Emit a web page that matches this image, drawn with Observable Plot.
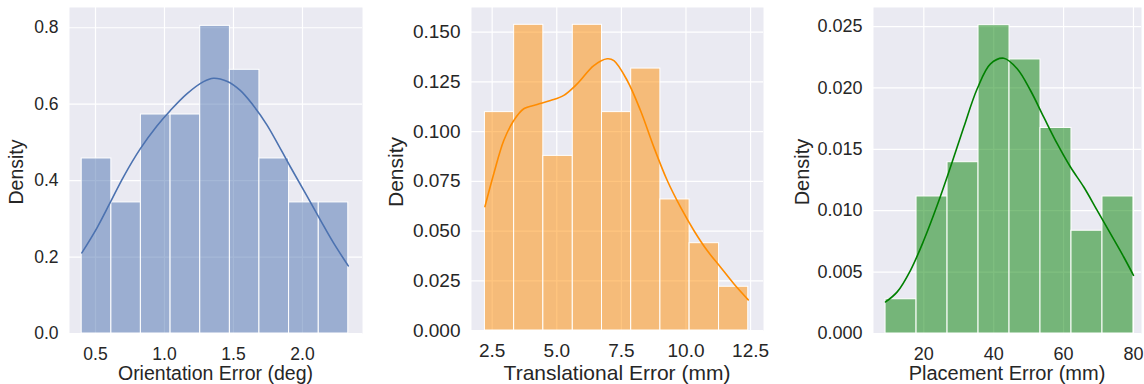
<!DOCTYPE html>
<html><head><meta charset="utf-8">
<script src="https://cdn.jsdelivr.net/npm/d3@7"></script>
<script src="https://cdn.jsdelivr.net/npm/@observablehq/plot@0.6"></script>
<style>
body{margin:0;background:#fff;}
#wrap{position:relative;width:1144px;height:384px;overflow:hidden;font-family:"Liberation Sans",Arial,sans-serif;color:#262626;}
.p{position:absolute;top:0;}
.xl{position:absolute;white-space:nowrap;transform:translate(-50%,-50%);line-height:1;}
.yl{position:absolute;white-space:nowrap;transform:translate(-50%,-50%) rotate(-90deg);line-height:1;}
</style></head><body><div id="wrap"></div>
<script>
// ---------- Orientation error (deg) ----------
const orientEdges = [0.400, 0.615, 0.829, 1.044, 1.259, 1.474, 1.688, 1.903, 2.118, 2.332];
const orientDensity = [0.458, 0.343, 0.573, 0.573, 0.805, 0.690, 0.458, 0.343, 0.343];
const orientKdeX = [0.401, 0.510, 0.607, 0.703, 0.824, 0.945, 1.041, 1.162, 1.283, 1.355, 1.452, 1.549, 1.645, 1.742, 1.911, 2.032, 2.128, 2.225, 2.332];
const orientKdeY = [0.211, 0.276, 0.343, 0.410, 0.483, 0.543, 0.583, 0.627, 0.659, 0.668, 0.660, 0.636, 0.596, 0.546, 0.437, 0.360, 0.298, 0.237, 0.177];
const orientXTicks = [0.5, 1.0, 1.5, 2.0];
const orientYTicks = [0.0, 0.2, 0.4, 0.6, 0.8];

// ---------- Translational error (mm) ----------
const transEdges = [2.22, 3.35, 4.48, 5.62, 6.75, 7.88, 9.01, 10.14, 11.28, 12.41];
const transDensity = [0.1098, 0.1537, 0.0878, 0.1537, 0.1098, 0.1317, 0.0659, 0.0439, 0.0220];
const transKdeX = [2.22, 2.562, 2.949, 3.336, 3.723, 4.24, 4.757, 5.272, 5.79, 6.433, 6.952, 7.21, 7.726, 8.24, 8.756, 9.275, 9.79, 10.305, 10.82, 11.34, 11.85, 12.41];
const transKdeY = [0.0623, 0.0788, 0.0955, 0.1056, 0.1115, 0.1136, 0.1156, 0.1182, 0.124, 0.1332, 0.1366, 0.1357, 0.1257, 0.1106, 0.0922, 0.0754, 0.062, 0.0503, 0.0402, 0.0318, 0.0235, 0.0154];
const transXTicks = [2.5, 5.0, 7.5, 10.0, 12.5];
const transYTicks = [0.000, 0.025, 0.050, 0.075, 0.100, 0.125, 0.150];

// ---------- Placement error (mm) ----------
const placeEdges = [9.05, 17.92, 26.79, 35.66, 44.53, 53.39, 62.26, 71.13, 80.0];
const placeDensity = [0.00279, 0.01116, 0.01395, 0.02511, 0.02232, 0.01674, 0.00837, 0.01116];
const placeKdeX = [9.05, 12.39, 16.19, 20.0, 23.83, 27.64, 31.45, 35.28, 39.08, 42.89, 46.72, 50.53, 54.33, 58.17, 61.97, 65.78, 69.61, 73.42, 77.22, 80.0];
const placeKdeY = [0.00257, 0.00339, 0.00515, 0.00759, 0.01044, 0.01356, 0.01681, 0.01993, 0.02196, 0.02242, 0.02156, 0.01979, 0.01762, 0.01546, 0.01356, 0.01193, 0.01003, 0.00813, 0.00623, 0.00474];
const placeXTicks = [20, 40, 60, 80];
const placeYTicks = [0.000, 0.005, 0.010, 0.015, 0.020, 0.025];

const FONT = '"Liberation Sans", Arial, sans-serif';

function panel(o) {
  const bars = o.dens.map((d, i) => ({x1: o.edges[i], x2: o.edges[i + 1], y1: 0, y2: d}));
  const kde = o.kx.map((x, i) => ({x, y: o.ky[i]}));
  return Plot.plot({
    width: o.width, height: 384,
    marginLeft: o.ml, marginRight: o.mr, marginTop: 7, marginBottom: o.mb,
    style: {background: "transparent", fontFamily: FONT, fontSize: o.tfs + "px", color: "#262626"},
    x: {domain: o.xDomain, label: null},
    y: {domain: o.yDomain, label: null},
    marks: [
      Plot.frame({fill: "#EAEAF2", stroke: null}),
      Plot.gridX(o.xTicks, {stroke: "#ffffff", strokeOpacity: 1, strokeWidth: 1.2}),
      Plot.gridY(o.yTicks, {stroke: "#ffffff", strokeOpacity: 1, strokeWidth: 1.2}),
      Plot.rect(bars, {x1: "x1", x2: "x2", y1: "y1", y2: "y2", fill: o.color, fillOpacity: 0.5, stroke: "#ffffff", strokeWidth: 1}),
      Plot.line(kde, {x: "x", y: "y", stroke: o.color, strokeWidth: 1.6, curve: "catmull-rom"}),
      Plot.axisX(o.xTicks, {tickSize: 0, tickPadding: o.xpad, tickFormat: o.xFmt, fontSize: o.tfs, label: null}),
      Plot.axisY(o.yTicks, {tickSize: 0, tickPadding: 11, tickFormat: o.yFmt, fontSize: o.tfs, label: null})
    ]
  });
}

const wrap = document.getElementById("wrap");
const specs = [
  {left: 0, width: 370, ml: 69, mr: 8, mb: 51, edges: orientEdges, dens: orientDensity, kx: orientKdeX, ky: orientKdeY,
   color: "#4C72B0", xDomain: [0.3116, 2.435], yDomain: [0, 0.853], xTicks: orientXTicks, yTicks: orientYTicks,
   xFmt: d3.format(".1f"), yFmt: d3.format(".1f"), xlabel: "Orientation Error (deg)", ylx: 17,
   tfs: 17.5, lfs: 19.5, xpad: 14, xly: 373.5},
  {left: 380, width: 390, ml: 91, mr: 7, mb: 54, edges: transEdges, dens: transDensity, kx: transKdeX, ky: transKdeY,
   color: "#FF8C00", xDomain: [1.70, 13.0], yDomain: [0, 0.1624], xTicks: transXTicks, yTicks: transYTicks,
   xFmt: d3.format(".1f"), yFmt: d3.format(".3f"), xlabel: "Translational Error (mm)", ylx: 395,
   tfs: 19, lfs: 21, xpad: 13, xly: 372},
  {left: 780, width: 364, ml: 93, mr: 3, mb: 51, edges: placeEdges, dens: placeDensity, kx: placeKdeX, ky: placeKdeY,
   color: "#008000", xDomain: [5.6, 82.3], yDomain: [0, 0.02655], xTicks: placeXTicks, yTicks: placeYTicks,
   xFmt: d3.format("d"), yFmt: d3.format(".3f"), xlabel: "Placement Error (mm)", ylx: 802,
   tfs: 18, lfs: 20, xpad: 13.5, xly: 373}
];
for (const s of specs) {
  const svg = panel(s);
  svg.classList.add("p");
  svg.style.left = s.left + "px";
  wrap.appendChild(svg);
  const xl = document.createElement("div");
  xl.className = "xl";
  xl.textContent = s.xlabel;
  xl.style.fontSize = s.lfs + "px";
  xl.style.left = (s.left + s.ml + (s.width - s.ml - s.mr) / 2) + "px";
  xl.style.top = s.xly + "px";
  wrap.appendChild(xl);
  const yl = document.createElement("div");
  yl.className = "yl";
  yl.textContent = "Density";
  yl.style.fontSize = s.lfs + "px";
  yl.style.left = s.ylx + "px";
  yl.style.top = "172px";
  wrap.appendChild(yl);
}
</script>
</body></html>
